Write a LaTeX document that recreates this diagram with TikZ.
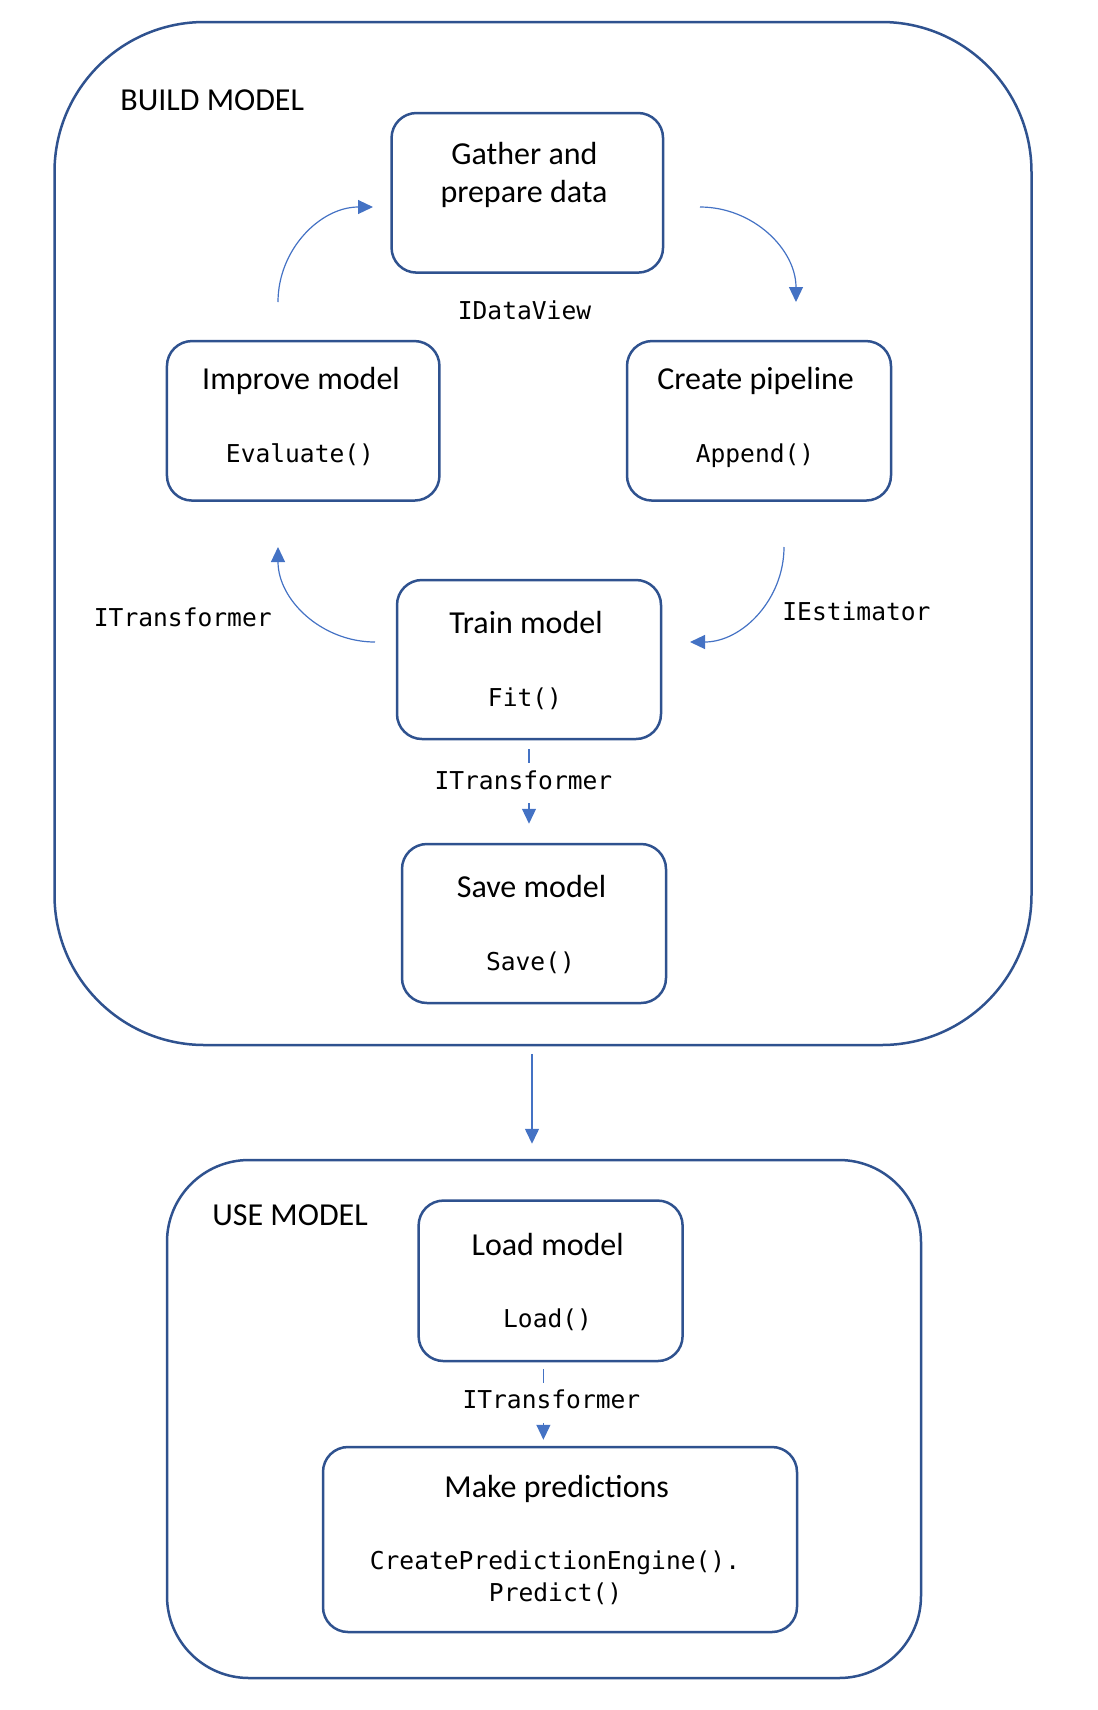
\documentclass[tikz,border=0pt]{standalone}
\usepackage{fontspec}
\setmainfont{Carlito}
\newfontfamily\codefont{DejaVu Sans Mono}
\usetikzlibrary{arrows.meta}
\definecolor{boxblue}{HTML}{2F528F}
\definecolor{arrowblue}{HTML}{4472C4}
\begin{document}
\begin{tikzpicture}[x=0.5pt,y=0.5pt,
  box/.style={draw=boxblue, line width=1.25pt, rounded corners=12.5pt, inner sep=0pt},
  group/.style={draw=boxblue, line width=1.25pt, inner sep=0pt},
  title/.style={font=\fontsize{16pt}{19.5pt}\selectfont, anchor=base, inner sep=0pt, text=black},
  code/.style={font=\codefont\fontsize{12.3pt}{16.4pt}\selectfont, anchor=base, inner sep=0pt, text=black},
  conn/.style={draw=arrowblue, line width=0.6pt},
  tip/.style={-{Triangle[length=7.5pt,width=7pt]}, arrowblue},
]
\useasboundingbox (0,0) rectangle (1098,-1710);

% groups
\node[group, rounded corners=75pt, minimum width=488.5pt, minimum height=511.5pt] (build) at (543,-533.5) {};
\node[group, rounded corners=41pt, minimum width=377pt, minimum height=259pt] (use) at (544,-1419) {};
\node[title, anchor=base west] (buildlbl) at (120,-110) {BUILD MODEL};
\node[title, anchor=base west] (uselbl) at (212,-1225.3) {USE MODEL};

% boxes
\node[box, minimum width=135.75pt, minimum height=79.8pt] (gather) at (527.3,-192.8) {};
\node[box, minimum width=136.25pt, minimum height=79.75pt] (improve) at (303.2,-420.8) {};
\node[box, minimum width=132pt, minimum height=79.75pt] (create) at (759,-420.8) {};
\node[box, minimum width=132pt, minimum height=79.5pt] (train) at (529,-659.5) {};
\node[box, minimum width=132pt, minimum height=79.5pt] (save) at (534,-923.5) {};
\node[box, minimum width=132pt, minimum height=80.25pt] (load) at (550.6,-1280.8) {};
\node[box, minimum width=237pt, minimum height=92.5pt] (predict) at (560,-1539.5) {};

% texts
\node[title] (gather1) at (524.5,-164.6) {Gather and};
\node[title] (gather2) at (524,-202.5) {prepare data};
\node[title] (improve1) at (301,-389.6) {Improve model};
\node[code] (improve2) at (300,-462.3) {Evaluate()};
\node[title] (create1) at (755.6,-389.6) {Create pipeline};
\node[code] (create2) at (755,-462.3) {Append()};
\node[title] (train1) at (526,-633.4) {Train model};
\node[code] (train2) at (525,-706) {Fit()};
\node[title] (save1) at (531.5,-897.5) {Save model};
\node[code] (save2) at (530.5,-970) {Save()};
\node[title] (load1) at (547.7,-1255.6) {Load model};
\node[code] (load2) at (547.6,-1327.6) {Load()};
\node[title] (predict1) at (556.7,-1497) {Make predictions};
\node[code] (predict2) at (555,-1569) {CreatePredictionEngine().};
\node[code] (predict3) at (555.6,-1601) {Predict()};

% floating labels
\node[code] (idv) at (524.5,-319.6) {IDataView};
\node[code, anchor=base west] (iest) at (782,-620) {IEstimator};
\node[code] (itl) at (182.8,-626.5) {ITransformer};
\node[code] (mid1) at (523.4,-789) {ITransformer};
\node[code] (mid2) at (551.4,-1408.6) {ITransformer};

% curved connectors
\coordinate (a1s) at (278,-302);
\coordinate (a1e) at (373,-207);
\coordinate (a2s) at (700,-207);
\coordinate (a2e) at (796,-302);
\coordinate (a3s) at (784,-547);
\coordinate (a3e) at (690,-642);
\coordinate (a4s) at (375,-642);
\coordinate (a4e) at (278,-547);
\draw[conn,tip] (a1s) to[out=90,in=180] (a1e);
\draw[conn,tip] (a2s) to[out=0,in=90] (a2e);
\draw[conn,tip] (a3s) to[out=-90,in=0] (a3e);
\draw[conn,tip] (a4s) to[out=180,in=-90] (a4e);

% train -> save
\draw[conn, shorten <=4.5pt, shorten >=3.65pt] (train.south) -- (train.south |- mid1.north);
\draw[conn, tip, shorten <=6.8pt, shorten >=9.5pt] (train.south |- mid1.south) -- (train.south |- save.north);

% build -> use
\coordinate (bu) at ([xshift=-5.5pt]build.south);
\draw[conn, line width=0.75pt, tip, shorten <=3.75pt, shorten >=7.5pt] (bu) -- (bu |- use.north);

% load -> predict
\coordinate (lp) at ([xshift=-3.6pt]load.south);
\draw[conn, shorten <=3.35pt, shorten >=3.45pt] (lp) -- (lp |- mid2.north);
\draw[conn, tip, shorten <=6.7pt, shorten >=3pt] (lp |- mid2.south) -- (lp |- predict.north);
\end{tikzpicture}
\end{document}
